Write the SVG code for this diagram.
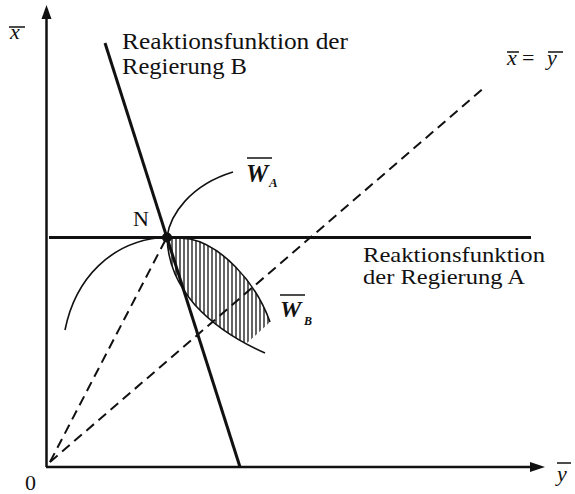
<svg xmlns="http://www.w3.org/2000/svg" width="575" height="494" viewBox="0 0 575 494">
<style>
text{font-family:'Liberation Serif','DejaVu Serif','Times New Roman',serif;fill:#111}
.m{font-style:italic}
.w{font-style:italic;font-weight:bold}
.ax{stroke:#111;stroke-width:2.5;fill:none}
.thick{stroke:#111;stroke-width:3;fill:none}
.thin{stroke:#111;stroke-width:1.6;fill:none}
.dash{stroke:#111;stroke-width:2;fill:none;stroke-dasharray:10 6}
.ol{stroke:#111;stroke-width:1.5}
</style>
<defs>
<clipPath id="lens"><path d="M167,237 L190,239 C220,245 255,280 270,322 L265,353 C240,342 215,327 195,305 C178,285 168,265 167,237 Z"/></clipPath>
<clipPath id="cut"><polygon points="100,200 403,200 185,400 100,400"/></clipPath>
</defs>
<rect width="575" height="494" fill="#fff"/>
<g id="axes">
<line class="ax" x1="46.5" y1="467" x2="46.5" y2="16"/>
<polygon points="46.5,5 41.5,19 51.5,19" fill="#111"/>
<line class="ax" x1="46" y1="467" x2="532" y2="467"/>
<polygon points="545,467 530,462 530,472" fill="#111"/>
<text x="25" y="490" font-size="22">0</text>
<text class="m" x="10" y="39" font-size="22">x</text>
<line class="ol" x1="9" y1="27" x2="25" y2="27"/>
<text class="m" x="557" y="481" font-size="22">y</text>
<line class="ol" x1="557" y1="463" x2="571" y2="463"/>
</g>
<g id="connectors">
<line class="dash" x1="50" y1="462" x2="485" y2="87"/>
<line class="dash" x1="50" y1="462" x2="167" y2="237"/>
<line class="thick" x1="105" y1="43" x2="240" y2="467"/>
<line class="thick" x1="49" y1="237.5" x2="531" y2="237.5"/>
</g>
<g id="region-WB">
<g clip-path="url(#cut)"><g clip-path="url(#lens)">
<path stroke="#111" stroke-width="1.3" d="M168,230V360M172,230V360M176,230V360M180,230V360M184,230V360M188,230V360M192,230V360M196,230V360M200,230V360M204,230V360M208,230V360M212,230V360M216,230V360M220,230V360M224,230V360M228,230V360M232,230V360M236,230V360M240,230V360M244,230V360M248,230V360M252,230V360M256,230V360M260,230V360M264,230V360M268,230V360M272,230V360"/>
</g></g>
<path class="thin" d="M167,237 L190,239 C220,245 255,280 270,322"/>
<path class="thin" d="M167,237 C168,265 178,285 195,305 C215,327 240,342 265,353"/>
</g>
<g id="curve-WA">
<path class="thin" d="M65,330 C75,280 110,240 167,237 C170,215 190,185 233,172"/>
</g>
<g id="node-N">
<circle cx="167" cy="237.5" r="5" fill="#111"/>
<text x="133" y="226" font-size="22">N</text>
</g>
<g id="label-B">
<text x="122" y="49" font-size="23" textLength="226" lengthAdjust="spacingAndGlyphs">Reaktionsfunktion der</text>
<text x="122" y="74" font-size="23" textLength="125" lengthAdjust="spacingAndGlyphs">Regierung B</text>
</g>
<g id="label-A">
<text x="363" y="262" font-size="21" textLength="182" lengthAdjust="spacingAndGlyphs">Reaktionsfunktion</text>
<text x="363" y="284" font-size="21" textLength="162" lengthAdjust="spacingAndGlyphs">der Regierung A</text>
</g>
<g id="label-diag">
<text class="m" x="507" y="65" font-size="22">x</text>
<line class="ol" x1="507" y1="52" x2="519" y2="52"/>
<text x="522" y="65" font-size="22">=</text>
<text class="m" x="547" y="65" font-size="22">y</text>
<line class="ol" x1="548" y1="52" x2="563" y2="52"/>
</g>
<g id="label-WA">
<text class="w" x="246" y="182" font-size="25">W</text>
<line class="ol" x1="247" y1="158" x2="272" y2="158"/>
<text class="w" x="269" y="187" font-size="13">A</text>
</g>
<g id="label-WB">
<text class="w" x="280" y="317" font-size="24">W</text>
<line class="ol" x1="280" y1="295" x2="305" y2="295"/>
<text class="w" x="304" y="325" font-size="12">B</text>
</g>
</svg>
